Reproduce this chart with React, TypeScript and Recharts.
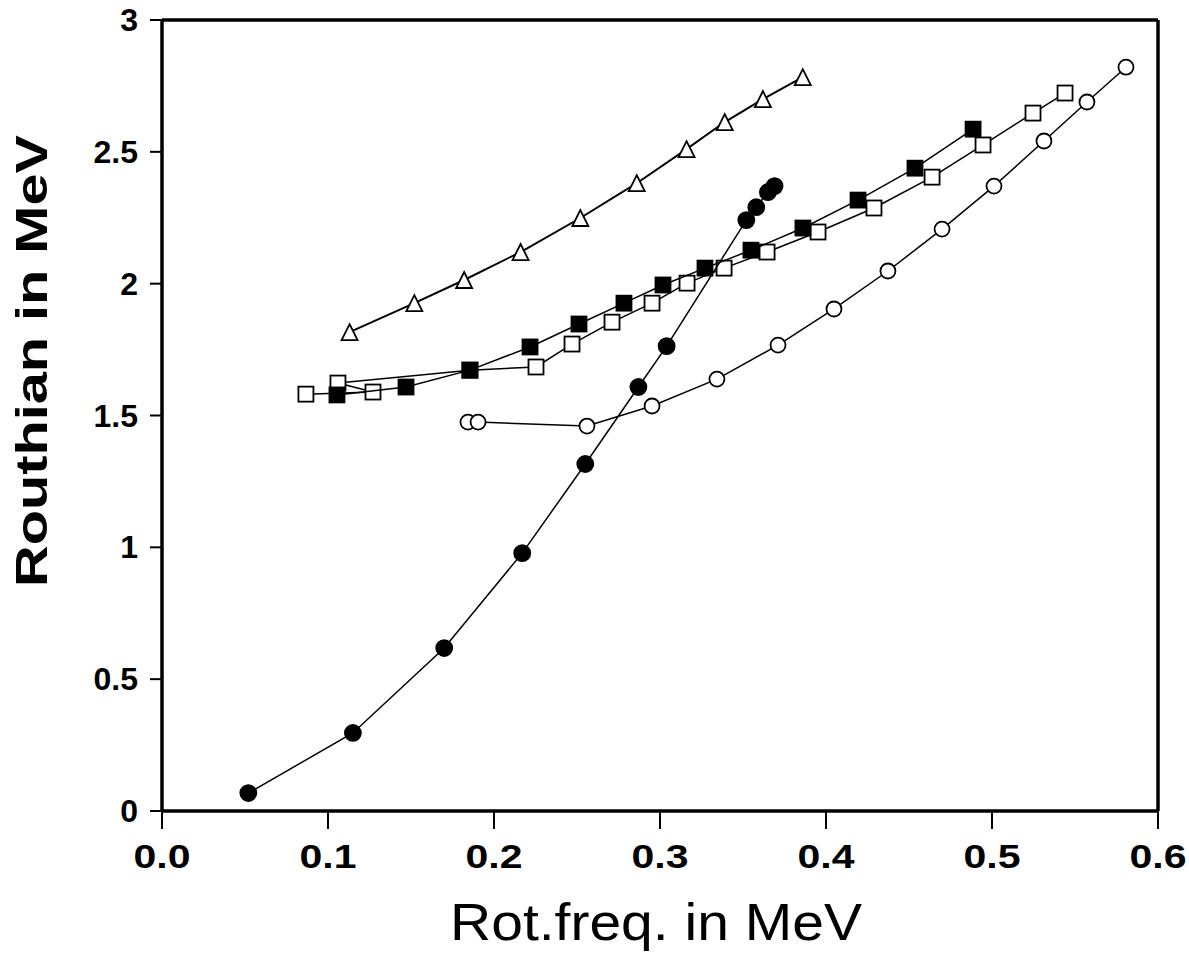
import { ScatterChart, Scatter, XAxis, YAxis, ReferenceLine } from "recharts";

const xTicks = [0, 0.1, 0.2, 0.3, 0.4, 0.5, 0.6];
const yTicks = [0, 0.5, 1, 1.5, 2, 2.5, 3];

const filledCircleX = [0.052, 0.115, 0.170, 0.217, 0.255, 0.287, 0.304, 0.352, 0.358, 0.365, 0.369];
const filledCircleY = [0.068, 0.296, 0.618, 0.978, 1.316, 1.608, 1.763, 2.241, 2.290, 2.347, 2.370];

const triangleX = [0.113, 0.152, 0.182, 0.216, 0.252, 0.286, 0.316, 0.339, 0.362, 0.386];
const triangleY = [1.816, 1.926, 2.014, 2.120, 2.249, 2.381, 2.510, 2.613, 2.700, 2.783];

const openSquareX = [0.0867, 0.1271, 0.106, 0.1855, 0.2253, 0.247, 0.2711, 0.2952, 0.3163, 0.3386, 0.3645, 0.3952, 0.4289, 0.4639, 0.4946, 0.5247, 0.544];
const openSquareY = [1.581, 1.589, 1.623, 1.672, 1.684, 1.771, 1.854, 1.926, 2.002, 2.059, 2.12, 2.196, 2.287, 2.404, 2.526, 2.647, 2.723];

const filledSquareX = [0.1054, 0.147, 0.1855, 0.2217, 0.2512, 0.2783, 0.3018, 0.3271, 0.3548, 0.3861, 0.4193, 0.4536, 0.4886];
const filledSquareY = [1.578, 1.608, 1.672, 1.76, 1.847, 1.926, 1.995, 2.059, 2.127, 2.211, 2.317, 2.438, 2.586];

const openCircleX = [0.1843, 0.1904, 0.256, 0.2952, 0.3343, 0.3711, 0.4048, 0.4373, 0.4699, 0.5012, 0.5313, 0.5572, 0.5807];
const openCircleY = [1.475, 1.475, 1.46, 1.536, 1.638, 1.767, 1.904, 2.048, 2.207, 2.37, 2.541, 2.689, 2.821];

const toPoints = (xs: number[], ys: number[]) => xs.map((x, i) => ({ x, y: ys[i] }));

const FONT = "'Liberation Sans', Arial, Helvetica, sans-serif";
const frame = { stroke: "#000", strokeWidth: 3.5 };

const CircleMark = ({ cx, cy, filled }: any) => (
  <circle cx={cx} cy={cy} r={filled ? 8 : 7.5} fill={filled ? "#000" : "#fff"} stroke="#000" strokeWidth={1.8} />
);

const SquareMark = ({ cx, cy, filled }: any) => (
  <rect x={cx - 7.5} y={cy - 7.5} width={15} height={15} fill={filled ? "#000" : "#fff"} stroke="#000" strokeWidth={1.8} />
);

const TriangleMark = ({ cx, cy }: any) => (
  <polygon
    points={`${cx},${cy - 8} ${cx + 8},${cy + 8} ${cx - 8},${cy + 8}`}
    fill="#fff"
    stroke="#000"
    strokeWidth={1.8}
  />
);

const XTick = ({ x, y, payload }: any) => (
  <text
    x={x}
    y={y + 37}
    textAnchor="middle"
    fontFamily={FONT}
    fontWeight="bold"
    fontSize={33}
    textLength={57}
    lengthAdjust="spacingAndGlyphs"
    fill="#000"
  >
    {payload.value.toFixed(1)}
  </text>
);

const YTick = ({ x, y, payload }: any) => (
  <text x={x - 10} y={y + 11} textAnchor="end" fontFamily={FONT} fontWeight="bold" fontSize={32} fill="#000">
    {String(payload.value)}
  </text>
);

export default function App() {
  const lineStyle = { stroke: "#000", strokeWidth: 1.5 };
  return (
    <div style={{ position: "absolute", left: 0, top: 0, background: "#fff" }}>
      <ScatterChart width={1189} height={963} margin={{ top: 20, right: 31, left: 0, bottom: 0 }}>
        <XAxis
          type="number"
          dataKey="x"
          domain={[0, 0.6]}
          ticks={xTicks}
          height={152}
          axisLine={frame}
          tickLine={{ stroke: "#000", strokeWidth: 2 }}
          tickSize={18}
          tick={<XTick />}
          allowDataOverflow
          label={{
            content: () => (
              <text
                x={656}
                y={940}
                textAnchor="middle"
                fontFamily={FONT}
                fontSize={52}
                textLength={412}
                lengthAdjust="spacingAndGlyphs"
                fill="#000"
              >
                Rot.freq. in MeV
              </text>
            ),
          }}
        />
        <YAxis
          type="number"
          dataKey="y"
          domain={[0, 3]}
          ticks={yTicks}
          width={162}
          axisLine={frame}
          tickLine={{ stroke: "#000", strokeWidth: 2 }}
          tickSize={12}
          tick={<YTick />}
          allowDataOverflow
          label={{
            content: () => (
              <text
                x={47}
                y={361}
                transform="rotate(-90, 47, 361)"
                textAnchor="middle"
                fontFamily={FONT}
                fontWeight="bold"
                fontSize={45}
                textLength={452}
                lengthAdjust="spacingAndGlyphs"
                fill="#000"
              >
                Routhian in MeV
              </text>
            ),
          }}
        />
        <ReferenceLine y={3} stroke="#000" strokeWidth={3.5} ifOverflow="visible" />
        <ReferenceLine x={0.6} stroke="#000" strokeWidth={3.5} ifOverflow="visible" />
        <Scatter
          data={toPoints(openSquareX, openSquareY)}
          line={lineStyle}
          lineType="joint"
          shape={(p: any) => <SquareMark {...p} filled={false} />}
          isAnimationActive={false}
        />
        <Scatter
          data={toPoints(filledSquareX, filledSquareY)}
          line={lineStyle}
          lineType="joint"
          shape={(p: any) => <SquareMark {...p} filled />}
          isAnimationActive={false}
        />
        <Scatter
          data={toPoints(triangleX, triangleY)}
          line={{ stroke: "#000", strokeWidth: 2 }}
          lineType="joint"
          shape={(p: any) => <TriangleMark {...p} />}
          isAnimationActive={false}
        />
        <Scatter
          data={toPoints(openCircleX, openCircleY)}
          line={lineStyle}
          lineType="joint"
          shape={(p: any) => <CircleMark {...p} filled={false} />}
          isAnimationActive={false}
        />
        <Scatter
          data={toPoints(filledCircleX, filledCircleY)}
          line={lineStyle}
          lineType="joint"
          shape={(p: any) => <CircleMark {...p} filled />}
          isAnimationActive={false}
        />
      </ScatterChart>
    </div>
  );
}
